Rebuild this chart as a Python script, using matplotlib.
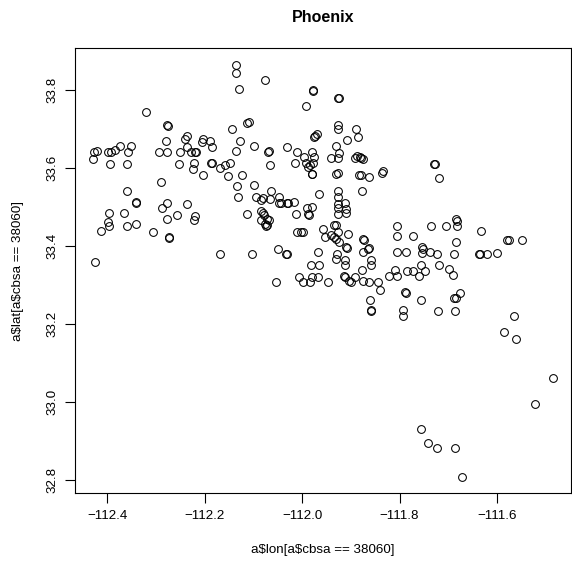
import numpy as np
import matplotlib
matplotlib.use("Agg")
import matplotlib.pyplot as plt

plt.rcParams['font.family'] = ['Liberation Sans', 'DejaVu Sans']

# Phoenix CBSA (38060) station locations
lon = [
    -112.136, -112.136, -112.130, -112.321, -112.276, -112.274, -112.144, -112.279,
    -112.236, -112.241, -112.204, -112.206, -112.189, -112.127, -112.426, -112.420,
    -112.428, -112.397, -112.392, -112.384, -112.374, -112.351, -112.356, -112.293,
    -112.277, -112.251, -112.236, -112.228, -112.220, -112.218, -112.185, -112.135,
    -112.393, -112.358, -112.252, -112.222, -112.223, -112.186, -112.185, -112.204,
    -112.168, -112.159, -112.147, -112.151, -112.124, -112.134, -112.131, -112.289,
    -112.358, -112.341, -112.341, -112.277, -112.287, -112.236, -112.395, -112.365,
    -112.397, -112.395, -112.412, -112.359, -112.341, -112.278, -112.256, -112.219,
    -112.222, -112.306, -112.273, -112.272, -112.425, -112.169, -112.076, -111.978,
    -111.978, -111.924, -111.926, -111.992, -112.112, -112.109, -112.099, -112.070,
    -112.068, -112.065, -112.030, -112.011, -112.015, -111.996, -111.979, -111.975,
    -111.992, -111.988, -111.984, -111.978, -111.979, -111.980, -111.976, -111.973,
    -111.969, -111.926, -111.926, -111.889, -111.907, -111.886, -111.930, -111.941,
    -111.926, -111.925, -111.892, -111.888, -111.882, -111.879, -111.874, -111.930,
    -111.926, -111.883, -111.880, -111.863, -111.837, -111.833, -112.098, -112.095,
    -112.084, -112.081, -112.065, -112.063, -112.047, -112.047, -112.044, -112.030,
    -112.028, -112.016, -111.965, -111.926, -111.926, -111.926, -111.926, -111.911,
    -111.909, -111.909, -111.877, -111.989, -111.980, -112.084, -112.081, -112.078,
    -111.988, -111.986, -111.926, -112.112, -112.084, -112.072, -112.067, -112.076,
    -112.074, -112.072, -112.013, -112.010, -112.003, -111.999, -111.956, -111.934,
    -111.930, -111.952, -111.941, -111.935, -111.931, -111.925, -111.926, -111.905,
    -111.874, -111.873, -111.864, -111.862, -111.875, -111.909, -111.908, -111.929,
    -111.930, -111.911, -111.912, -111.967, -111.859, -111.858, -111.878, -111.806,
    -111.806, -111.806, -111.809, -111.822, -111.806, -112.049, -112.033, -112.031,
    -112.102, -111.982, -111.965, -112.054, -112.006, -111.997, -111.984, -111.980,
    -111.968, -111.947, -111.914, -111.911, -111.904, -111.899, -111.892, -111.875,
    -111.863, -111.845, -111.841, -111.860, -111.859, -111.858, -111.727, -111.729,
    -111.720, -111.736, -111.704, -111.684, -111.683, -111.683, -111.772, -111.685,
    -111.632, -111.580, -111.576, -111.548, -111.787, -111.753, -111.752, -111.754,
    -111.737, -111.723, -111.689, -111.638, -111.634, -111.620, -111.601, -111.785,
    -111.772, -111.761, -111.757, -111.747, -111.720, -111.699, -111.690, -111.789,
    -111.787, -111.756, -111.689, -111.685, -111.676, -111.792, -111.792, -111.721,
    -111.686, -111.566, -111.585, -111.561, -111.486, -111.522, -111.757, -111.741,
    -111.723, -111.687, -111.671,
]
lat = [
    33.865, 33.844, 33.802, 33.743, 33.711, 33.708, 33.700, 33.670,
    33.683, 33.674, 33.674, 33.667, 33.670, 33.669, 33.640, 33.643,
    33.624, 33.641, 33.641, 33.647, 33.656, 33.656, 33.641, 33.640,
    33.640, 33.641, 33.653, 33.642, 33.640, 33.640, 33.655, 33.643,
    33.611, 33.611, 33.611, 33.612, 33.597, 33.612, 33.614, 33.583,
    33.599, 33.608, 33.612, 33.580, 33.582, 33.555, 33.526, 33.565,
    33.540, 33.512, 33.510, 33.510, 33.496, 33.508, 33.485, 33.485,
    33.461, 33.452, 33.437, 33.451, 33.455, 33.468, 33.480, 33.477,
    33.467, 33.435, 33.422, 33.421, 33.359, 33.379, 33.827, 33.800,
    33.798, 33.780, 33.780, 33.759, 33.715, 33.717, 33.657, 33.642,
    33.643, 33.607, 33.655, 33.642, 33.612, 33.627, 33.642, 33.627,
    33.612, 33.603, 33.608, 33.612, 33.585, 33.584, 33.680, 33.683,
    33.687, 33.710, 33.700, 33.700, 33.672, 33.679, 33.656, 33.626,
    33.625, 33.638, 33.625, 33.630, 33.629, 33.625, 33.622, 33.585,
    33.586, 33.582, 33.581, 33.576, 33.588, 33.591, 33.556, 33.526,
    33.518, 33.522, 33.520, 33.540, 33.526, 33.511, 33.510, 33.510,
    33.511, 33.512, 33.533, 33.541, 33.526, 33.507, 33.497, 33.511,
    33.494, 33.485, 33.540, 33.497, 33.499, 33.490, 33.485, 33.480,
    33.481, 33.479, 33.483, 33.481, 33.467, 33.470, 33.467, 33.456,
    33.451, 33.454, 33.481, 33.436, 33.436, 33.435, 33.443, 33.453,
    33.453, 33.422, 33.427, 33.422, 33.417, 33.410, 33.435, 33.431,
    33.417, 33.415, 33.393, 33.395, 33.385, 33.397, 33.395, 33.380,
    33.367, 33.364, 33.350, 33.385, 33.364, 33.350, 33.337, 33.451,
    33.425, 33.385, 33.337, 33.322, 33.322, 33.392, 33.380, 33.379,
    33.380, 33.350, 33.351, 33.308, 33.319, 33.308, 33.306, 33.321,
    33.319, 33.308, 33.322, 33.321, 33.310, 33.308, 33.321, 33.310,
    33.308, 33.306, 33.286, 33.262, 33.236, 33.234, 33.611, 33.611,
    33.575, 33.452, 33.451, 33.469, 33.464, 33.450, 33.425, 33.410,
    33.438, 33.415, 33.416, 33.415, 33.383, 33.397, 33.392, 33.381,
    33.385, 33.379, 33.379, 33.379, 33.379, 33.379, 33.381, 33.336,
    33.336, 33.323, 33.350, 33.336, 33.351, 33.340, 33.325, 33.282,
    33.280, 33.262, 33.266, 33.267, 33.279, 33.236, 33.219, 33.234,
    33.233, 33.220, 33.180, 33.162, 33.062, 32.995, 32.930, 32.895,
    32.880, 32.881, 32.807,
]

x_ticks = [-112.4, -112.2, -112.0, -111.8, -111.6]
y_ticks = [32.8, 33.0, 33.2, 33.4, 33.6, 33.8]

fig = plt.figure(figsize=(5.72, 5.63), dpi=100)
ax = fig.add_axes([75 / 572, 69.7 / 563, 496 / 572, 445 / 563])

ax.plot(lon, lat, linestyle='none', marker='o', markersize=5.6,
        markerfacecolor='none', markeredgecolor='black', markeredgewidth=0.75)

# R-style 4% padding around the data range
lon_a, lat_a = np.array(lon), np.array(lat)
rx = lon_a.max() - lon_a.min()
ry = lat_a.max() - lat_a.min()
ax.set_xlim(lon_a.min() - 0.04 * rx, lon_a.max() + 0.04 * rx)
ax.set_ylim(lat_a.min() - 0.04 * ry, lat_a.max() + 0.04 * ry)

ax.set_xticks(x_ticks)
ax.set_yticks(y_ticks)
ax.set_xticklabels([f"\u2212{abs(v):.1f}" for v in x_ticks])
ax.set_yticklabels([f"{v:.1f}" for v in y_ticks], rotation=90, va='center')
ax.tick_params(direction='out', length=7, width=0.8, labelsize=9.6, pad=5)

for sp in ax.spines.values():
    sp.set_linewidth(0.8)

ax.set_title("Phoenix", fontsize=11.5, fontweight='bold', pad=19)
ax.set_xlabel(r"a\$lon[a\$cbsa == 38060]", fontsize=9.6, labelpad=16)
ax.set_ylabel(r"a\$lat[a\$cbsa == 38060]", fontsize=9.6, labelpad=16)

fig.savefig("out.png", dpi=100)
